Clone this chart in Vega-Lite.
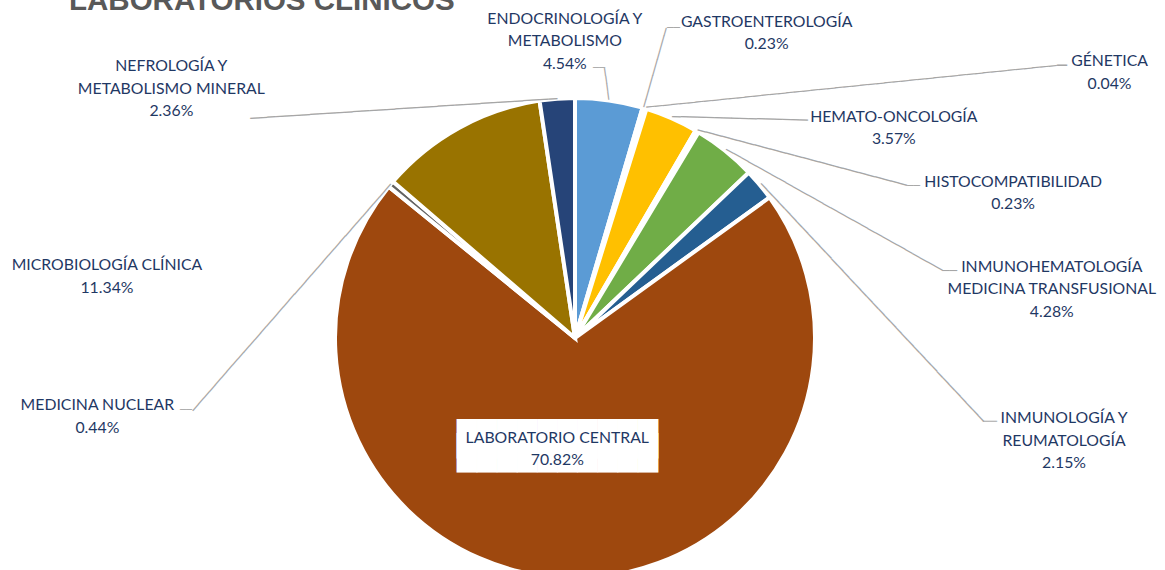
{
  "$schema": "https://vega.github.io/schema/vega-lite/v6.json",
  "autosize": {"type": "none"},
  "width": 1150,
  "height": 464,
  "padding": {"left": 0, "top": 106, "right": 15, "bottom": 0},
  "background": "white",
  "title": {"text": "LABORATORIOS CLÍNICOS", "anchor": "start", "frame": "group", "orient": "top", "offset": 0, "dx": 69, "dy": 29, "font": "Liberation Sans", "fontSize": 29.5, "fontWeight": "bold", "color": "#595959", "baseline": "alphabetic"},
  "data": {"values": [
    {"category": "ENDOCRINOLOGÍA Y METABOLISMO", "label": "ENDOCRINOLOGÍA Y\nMETABOLISMO\n4.54%", "value": 4.54},
    {"category": "GASTROENTEROLOGÍA", "label": "GASTROENTEROLOGÍA\n0.23%", "value": 0.23},
    {"category": "GÉNETICA", "label": "GÉNETICA\n0.04%", "value": 0.04},
    {"category": "HEMATO-ONCOLOGÍA", "label": "HEMATO-ONCOLOGÍA\n3.57%", "value": 3.57},
    {"category": "HISTOCOMPATIBILIDAD", "label": "HISTOCOMPATIBILIDAD\n0.23%", "value": 0.23},
    {"category": "INMUNOHEMATOLOGÍA MEDICINA TRANSFUSIONAL", "label": "INMUNOHEMATOLOGÍA\nMEDICINA TRANSFUSIONAL\n4.28%", "value": 4.28},
    {"category": "INMUNOLOGÍA Y REUMATOLOGÍA", "label": "INMUNOLOGÍA Y\nREUMATOLOGÍA\n2.15%", "value": 2.15},
    {"category": "LABORATORIO CENTRAL", "label": "LABORATORIO CENTRAL\n70.82%", "value": 70.82},
    {"category": "MEDICINA NUCLEAR", "label": "MEDICINA NUCLEAR\n0.44%", "value": 0.44},
    {"category": "MICROBIOLOGÍA CLÍNICA", "label": "MICROBIOLOGÍA CLÍNICA\n11.34%", "value": 11.34},
    {"category": "NEFROLOGÍA Y METABOLISMO MINERAL", "label": "NEFROLOGÍA Y\nMETABOLISMO MINERAL\n2.36%", "value": 2.36}
  ]},
  "layer": [
    {
      "mark": {"type": "arc", "outerRadius": 240, "stroke": "white", "strokeWidth": 4},
      "encoding": {
        "theta": {"field": "value", "type": "quantitative", "stack": true},
        "color": {"field": "category", "type": "nominal", "legend": null,
          "scale": {"domain": ["ENDOCRINOLOGÍA Y METABOLISMO", "GASTROENTEROLOGÍA", "GÉNETICA", "HEMATO-ONCOLOGÍA", "HISTOCOMPATIBILIDAD", "INMUNOHEMATOLOGÍA MEDICINA TRANSFUSIONAL", "INMUNOLOGÍA Y REUMATOLOGÍA", "LABORATORIO CENTRAL", "MEDICINA NUCLEAR", "MICROBIOLOGÍA CLÍNICA", "NEFROLOGÍA Y METABOLISMO MINERAL"],
            "range": ["#5B9BD5", "#ED7D31", "#A5A5A5", "#FFC000", "#4472C4", "#70AD47", "#255E91", "#9E480E", "#636363", "#997300", "#264478"]}}
      }
    },
    {
      "mark": {"type": "text", "radius": 241, "font": "DejaVu Sans Mono", "align": "left", "baseline": "middle", "color": "#A6A6A6",
        "text": {"expr": "pad('', ({'ENDOCRINOLOGÍA Y METABOLISMO': 4, 'GASTROENTEROLOGÍA': 10, 'GÉNETICA': 50, 'HEMATO-ONCOLOGÍA': 16, 'HISTOCOMPATIBILIDAD': 26, 'INMUNOHEMATOLOGÍA MEDICINA TRANSFUSIONAL': 29, 'INMUNOLOGÍA Y REUMATOLOGÍA': 38, 'MEDICINA NUCLEAR': 35, 'NEFROLOGÍA Y METABOLISMO MINERAL': 36})[datum.category] || 0, '─')"},
        "fontSize": {"expr": "({'ENDOCRINOLOGÍA Y METABOLISMO': 13.16, 'GASTROENTEROLOGÍA': 13.67, 'GÉNETICA': 13.71, 'HEMATO-ONCOLOGÍA': 14.12, 'HISTOCOMPATIBILIDAD': 13.84, 'INMUNOHEMATOLOGÍA MEDICINA TRANSFUSIONAL': 14.2, 'INMUNOLOGÍA Y REUMATOLOGÍA': 14.25, 'MEDICINA NUCLEAR': 14.29, 'NEFROLOGÍA Y METABOLISMO MINERAL': 14.2})[datum.category] || 10"},
        "angle": {"expr": "({'ENDOCRINOLOGÍA Y METABOLISMO': -97.6, 'GASTROENTEROLOGÍA': -74.1, 'GÉNETICA': -5.81, 'HEMATO-ONCOLOGÍA': 1.5, 'HISTOCOMPATIBILIDAD': 14.84, 'INMUNOHEMATOLOGÍA MEDICINA TRANSFUSIONAL': 29.24, 'INMUNOLOGÍA Y REUMATOLOGÍA': 46.9, 'MEDICINA NUCLEAR': 131.16, 'NEFROLOGÍA Y METABOLISMO MINERAL': 176.3})[datum.category] || 0"}},
      "encoding": {
        "theta": {"field": "value", "type": "quantitative", "stack": true},
        "detail": {"field": "category", "type": "nominal"}
      }
    },
    {
      "mark": {"type": "text", "radius": 241, "font": "DejaVu Sans Mono", "baseline": "middle", "color": "#A6A6A6",
        "align": {"expr": "datum.category === 'ENDOCRINOLOGÍA Y METABOLISMO' || datum.category === 'MEDICINA NUCLEAR' ? 'right' : 'left'"},
        "text": {"expr": "pad('', ({'ENDOCRINOLOGÍA Y METABOLISMO': 2, 'GASTROENTEROLOGÍA': 2, 'GÉNETICA': 1, 'HISTOCOMPATIBILIDAD': 2, 'INMUNOHEMATOLOGÍA MEDICINA TRANSFUSIONAL': 2, 'INMUNOLOGÍA Y REUMATOLOGÍA': 2, 'MEDICINA NUCLEAR': 2})[datum.category] || 0, '─')"},
        "fontSize": {"expr": "({'ENDOCRINOLOGÍA Y METABOLISMO': 10, 'GASTROENTEROLOGÍA': 10.8, 'GÉNETICA': 16.6, 'HISTOCOMPATIBILIDAD': 10.8, 'INMUNOHEMATOLOGÍA MEDICINA TRANSFUSIONAL': 12.46, 'INMUNOLOGÍA Y REUMATOLOGÍA': 11.6, 'MEDICINA NUCLEAR': 10})[datum.category] || 10"},
        "dx": {"expr": "({'ENDOCRINOLOGÍA Y METABOLISMO': -4.2, 'GASTROENTEROLOGÍA': 22.5, 'GÉNETICA': 410.6, 'HISTOCOMPATIBILIDAD': 209.4, 'INMUNOHEMATOLOGÍA MEDICINA TRANSFUSIONAL': 216.3, 'INMUNOLOGÍA Y REUMATOLOGÍA': 222.6, 'MEDICINA NUCLEAR': -198.1})[datum.category] || 0"},
        "dy": {"expr": "({'ENDOCRINOLOGÍA Y METABOLISMO': -31.4, 'GASTROENTEROLOGÍA': -79.2, 'GÉNETICA': -41.8, 'HISTOCOMPATIBILIDAD': 55.5, 'INMUNOHEMATOLOGÍA MEDICINA TRANSFUSIONAL': 121.1, 'INMUNOLOGÍA Y REUMATOLOGÍA': 238, 'MEDICINA NUCLEAR': 226.6})[datum.category] || 0"}},
      "encoding": {
        "theta": {"field": "value", "type": "quantitative", "stack": true},
        "detail": {"field": "category", "type": "nominal"}
      }
    },
    {
      "mark": {"type": "text", "radius": 238, "font": "DejaVu Sans Mono", "fontSize": 33.4, "lineBreak": "\n", "lineHeight": 14, "align": "center", "baseline": "middle", "color": "white",
        "dx": {"expr": "datum.category === 'LABORATORIO CENTRAL' ? -11 : 0"},
        "dy": {"expr": "datum.category === 'LABORATORIO CENTRAL' ? -136 : 0"}},
      "encoding": {
        "theta": {"field": "value", "type": "quantitative", "stack": true},
        "detail": {"field": "category", "type": "nominal"},
        "text": {"condition": {"test": "datum.category === 'LABORATORIO CENTRAL'", "value": "██████████\n██████████"}, "value": ""}
      }
    },
    {
      "mark": {"type": "text", "radius": 238, "font": "Lato", "fontSize": 15.8, "lineBreak": "\n", "lineHeight": 22.5, "align": "center", "baseline": "middle", "color": "#1F3864",
        "dx": {"expr": "({'ENDOCRINOLOGÍA Y METABOLISMO': -44, 'GASTROENTEROLOGÍA': 123, 'GÉNETICA': 464, 'HEMATO-ONCOLOGÍA': 223, 'HISTOCOMPATIBILIDAD': 317, 'INMUNOHEMATOLOGÍA MEDICINA TRANSFUSIONAL': 328, 'INMUNOLOGÍA Y REUMATOLOGÍA': 306, 'LABORATORIO CENTRAL': -11, 'MEDICINA NUCLEAR': -295, 'MICROBIOLOGÍA CLÍNICA': -353, 'NEFROLOGÍA Y METABOLISMO MINERAL': -386})[datum.category]"},
        "dy": {"expr": "({'ENDOCRINOLOGÍA Y METABOLISMO': -83.5, 'GASTROENTEROLOGÍA': -88.25, 'GÉNETICA': -49.25, 'HEMATO-ONCOLOGÍA': -3.25, 'HISTOCOMPATIBILIDAD': 48.75, 'INMUNOHEMATOLOGÍA MEDICINA TRANSFUSIONAL': 114.5, 'INMUNOLOGÍA Y REUMATOLOGÍA': 232.5, 'LABORATORIO CENTRAL': -138.25, 'MEDICINA NUCLEAR': 219.75, 'MICROBIOLOGÍA CLÍNICA': 135.75, 'NEFROLOGÍA Y METABOLISMO MINERAL': -34.5})[datum.category]"}},
      "encoding": {
        "theta": {"field": "value", "type": "quantitative", "stack": true},
        "detail": {"field": "category", "type": "nominal"},
        "text": {"field": "label", "type": "nominal"}
      }
    }
  ]
}
